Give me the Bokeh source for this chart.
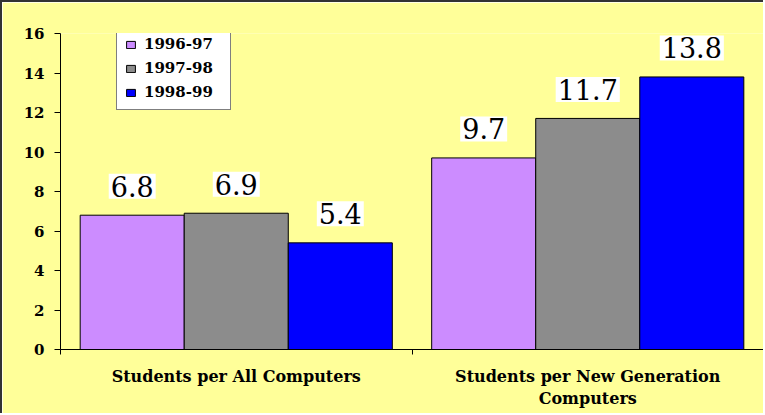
from bokeh.plotting import figure
from bokeh.models import ColumnDataSource, Range1d, Legend, LinearAxis, FixedTicker
from bokeh.core.properties import value
from bokeh.embed import file_html
from bokeh.resources import INLINE

# ---- data ----
categories = ["Students per All Computers", "Students per New Generation Computers"]
category_line1 = ["Students per All Computers", "Students per New Generation"]
category_line2 = ["", "Computers"]
series_names = ["1996-97", "1997-98", "1998-99"]
values_1996_97 = [6.8, 9.7]
values_1997_98 = [6.9, 11.7]
values_1998_99 = [5.4, 13.8]
y_ticks = [0, 2, 4, 6, 8, 10, 12, 14, 16]

# ---- style ----
colors = ["#CC8CFF", "#8C8C8C", "#0000FF"]
bg = "#FFFF99"
FONT = "DejaVu Serif"
bar_w = 0.296
offsets = [-bar_w, 0.0, bar_w]

cat_pos = [i + 0.5 for i in range(len(categories))]
cat_edges = [float(i) for i in range(len(categories) + 1)]
series = [values_1996_97, values_1997_98, values_1998_99]
data = {"pos": cat_pos}
for i, vals in enumerate(series):
    data[f"x{i}"] = [c + offsets[i] for c in cat_pos]
    data[f"s{i}"] = vals
    data[f"l{i}"] = [f"{v:.1f}" for v in vals]
source = ColumnDataSource(data)

p = figure(width=763, height=413,
           x_range=Range1d(0, len(categories)),
           y_range=Range1d(0, 16),
           output_backend="svg", toolbar_location=None,
           min_border_left=58, min_border_right=2,
           min_border_top=31, min_border_bottom=66)
p.background_fill_color = bg
p.border_fill_color = bg
p.outline_line_color = None
p.xgrid.visible = False
p.ygrid.visible = False
p.styles = {"border-top": "2px solid #333333", "border-left": "2px solid #333333"}

# y axis
p.yaxis.ticker = y_ticks
p.yaxis.major_label_text_font = FONT
p.yaxis.major_label_text_font_style = "bold"
p.yaxis.major_label_text_font_size = "15px"
p.yaxis.major_label_text_color = "black"
p.yaxis.major_tick_out = 6
p.yaxis.major_tick_in = 0
p.yaxis.minor_tick_line_color = None
p.yaxis.major_label_standoff = 10
p.yaxis.axis_line_color = "black"
p.yaxis.major_tick_line_color = "black"


def style_cat_axis(ax, standoff):
    ax.major_label_text_font = FONT
    ax.major_label_text_font_style = "bold"
    ax.major_label_text_font_size = "16px"
    ax.major_label_text_color = "black"
    ax.major_tick_line_color = None
    ax.major_tick_out = 0
    ax.major_tick_in = 0
    ax.major_label_standoff = standoff


xa = p.xaxis[0]
xa.ticker = FixedTicker(ticks=cat_pos, minor_ticks=cat_edges)
xa.major_label_overrides = dict(zip(cat_pos, category_line1))
style_cat_axis(xa, 12)
xa.minor_tick_line_color = "black"
xa.minor_tick_out = 5
xa.minor_tick_in = 0
xa.axis_line_color = "black"

line2_pos = [c for c, t in zip(cat_pos, category_line2) if t]
line2_txt = [t for t in category_line2 if t]
ax2 = LinearAxis(ticker=FixedTicker(ticks=line2_pos))
ax2.major_label_overrides = dict(zip(line2_pos, line2_txt))
style_cat_axis(ax2, 0)
ax2.minor_tick_line_color = None
ax2.minor_tick_out = 0
ax2.axis_line_color = None
p.add_layout(ax2, "below")

renderers = []
for i, (name, col) in enumerate(zip(series_names, colors)):
    r = p.vbar(x=f"x{i}", top=f"s{i}", width=bar_w,
               source=source, fill_color=col, line_color="black", line_width=1)
    renderers.append((name, [r]))
    p.text(x=f"x{i}", y=f"s{i}", text=f"l{i}",
           source=source, text_font=value(FONT), text_font_size="27px",
           text_color="black", text_align="center", text_baseline="middle",
           y_offset=-29, background_fill_color="white", padding=2)

legend = Legend(items=renderers, location=(56, 239),
                glyph_width=11, glyph_height=9,
                label_text_font=FONT, label_text_font_style="bold",
                label_text_font_size="15px", label_text_color="black",
                label_height=16, label_width=78,
                spacing=6, padding=8, label_standoff=8,
                border_line_color="black", border_line_width=1,
                background_fill_color="white", background_fill_alpha=1.0)
p.add_layout(legend)

open("out.html", "w").write(file_html(p, INLINE))
